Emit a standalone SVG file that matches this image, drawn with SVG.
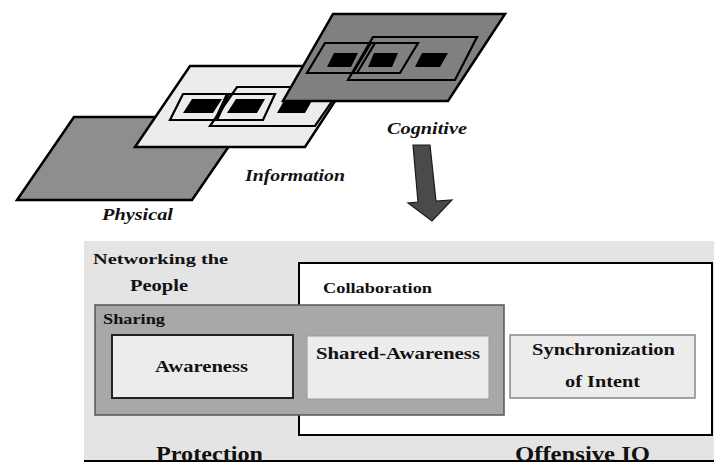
<svg xmlns="http://www.w3.org/2000/svg" width="714" height="470" viewBox="0 0 714 470">
<style>
.t{font-family:"Liberation Serif","Times New Roman",serif;font-weight:bold;fill:#111}
.it{font-style:italic}
.plane{stroke:#000;stroke-width:2.5;stroke-linejoin:miter}
.frame{fill:none;stroke:#000;stroke-width:2.2}
.blk{fill:#000}
</style>
<rect width="714" height="470" fill="#fff"/>
<g id="physical">
<polygon class="plane" points="17,200 192,200 249,117 74,117" fill="#8e8e8e"/>
<text class="t it" x="102" y="220" font-size="17" textLength="71" lengthAdjust="spacingAndGlyphs">Physical</text>
</g>
<g id="information">
<polygon class="plane" points="135,147 305,147 358,66 190,66" fill="#ececec"/>
<polygon class="frame" points="210,126 315,126 342,87 237,87" fill="#f6f6f6"/>
<polygon class="frame" points="170,120 215,120 227,94 183,94"/>
<polygon class="frame" points="217,120 263,120 275,94 229,94"/>
<polygon class="blk" points="183,113 213,113 222,99 192,99"/>
<polygon class="blk" points="227,113 257,113 265,99 236,99"/>
<polygon class="blk" points="277,113 305,113 313,99 285,99"/>
<text class="t it" x="245" y="181" font-size="17" textLength="100" lengthAdjust="spacingAndGlyphs">Information</text>
</g>
<g id="cognitive">
<polygon class="plane" points="283,101 448,101 505,14 333,14" fill="#808080"/>
<polygon class="frame" points="348,80 455,80 477,37 373,37"/>
<polygon class="frame" points="307,73 357,73 375,43 325,43"/>
<polygon class="frame" points="353,73 400,73 418,43 371,43"/>
<polygon class="blk" points="327,67 351,67 358,53 334,53"/>
<polygon class="blk" points="368,67 392,67 398,53 374,53"/>
<polygon class="blk" points="415,67 440,67 448,53 422,53"/>
<text class="t it" x="387" y="134" font-size="17" textLength="80" lengthAdjust="spacingAndGlyphs">Cognitive</text>
</g>
<g id="connectors">
<polygon points="413,145 430,145 436,201 452,200 432,221 408,203 418,202" fill="#4a4a4a" stroke="#1a1a1a" stroke-width="1.2"/>
</g>
<g id="networking">
<rect x="84" y="241" width="630" height="220" fill="#e4e4e4"/>
<text class="t" x="93" y="264" font-size="15" textLength="135" lengthAdjust="spacingAndGlyphs">Networking the</text>
<text class="t" x="130" y="291" font-size="17" textLength="58" lengthAdjust="spacingAndGlyphs">People</text>
<line x1="84" y1="461" x2="714" y2="461" stroke="#000" stroke-width="2"/>
<text class="t" x="156" y="461" font-size="20" textLength="107" lengthAdjust="spacingAndGlyphs">Protection</text>
<text class="t" x="515" y="461" font-size="20" textLength="135" lengthAdjust="spacingAndGlyphs">Offensive IO</text>
</g>
<g id="collaboration">
<rect x="299" y="263" width="413" height="172" fill="#fff" stroke="#000" stroke-width="2"/>
<text class="t" x="323" y="293" font-size="14" textLength="109" lengthAdjust="spacingAndGlyphs">Collaboration</text>
</g>
<g id="sharing">
<rect x="95" y="305" width="409" height="110" fill="#a8a8a8" stroke="#555" stroke-width="1.5"/>
<text class="t" x="103" y="324" font-size="15" textLength="62" lengthAdjust="spacingAndGlyphs">Sharing</text>
</g>
<g id="awareness">
<rect x="112" y="335" width="181" height="63" fill="#ececec" stroke="#222" stroke-width="2"/>
<text class="t" x="155" y="372" font-size="16" textLength="93" lengthAdjust="spacingAndGlyphs">Awareness</text>
</g>
<g id="shared-awareness">
<rect x="307" y="336" width="182" height="63" fill="#ececec" stroke="#999" stroke-width="1"/>
<text class="t" x="316" y="359" font-size="17" textLength="164" lengthAdjust="spacingAndGlyphs">Shared-Awareness</text>
</g>
<g id="synchronization">
<rect x="510" y="335" width="185" height="63" fill="#ececec" stroke="#888" stroke-width="1.5"/>
<text class="t" x="532" y="355" font-size="16" textLength="143" lengthAdjust="spacingAndGlyphs">Synchronization</text>
<text class="t" x="565" y="387" font-size="16" textLength="75" lengthAdjust="spacingAndGlyphs">of Intent</text>
</g>
</svg>
